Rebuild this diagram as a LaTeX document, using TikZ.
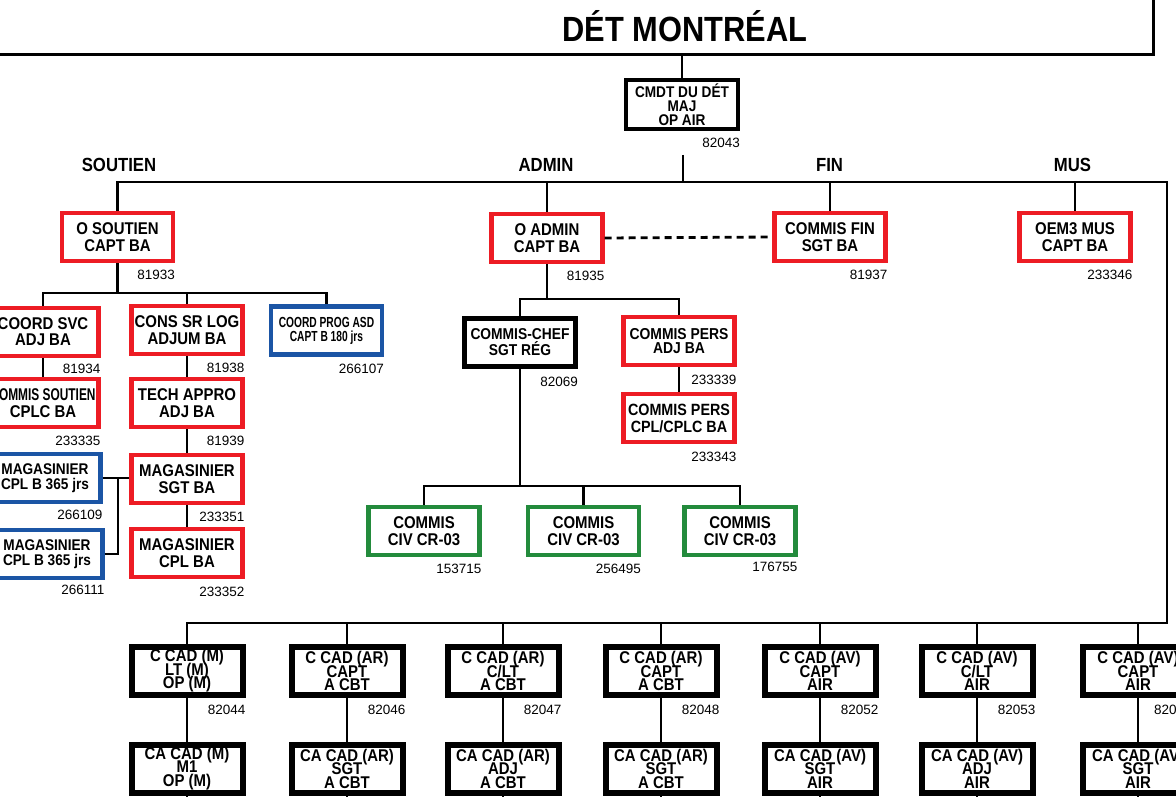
\documentclass[tikz,border=0pt]{standalone}
\usepackage{fontspec}
\setmainfont{Liberation Sans}
\newfontfamily\boxfont[FakeStretch=0.88]{Liberation Sans}
\newfontfamily\slimfont[FakeStretch=0.7]{Liberation Sans}
\newcommand\tightlines{\lineskiplimit=-30pt\relax}
\usetikzlibrary{positioning,calc}
\definecolor{regred}{RGB}{237,28,36}
\definecolor{resblue}{RGB}{27,85,165}
\definecolor{civgreen}{RGB}{35,139,60}
\tikzset{conn/.style={line width=2.8pt},
         dotline/.style={line width=2.8pt, dash pattern=on 7pt off 5pt},
         unitbox/.style={draw, line width=4.3pt, minimum width=111pt, minimum height=48pt,
                     inner sep=0pt, align=center,
                     font={\boxfont\bfseries\fontsize{17}{17.5}\selectfont\tightlines}},
         posreg/.style={unitbox, draw=regred},
         posres/.style={unitbox, draw=resblue},
         posciv/.style={unitbox, draw=civgreen},
         poschef/.style={unitbox, draw=black, line width=5pt},
         poscmd/.style={unitbox, draw=black, line width=4pt, minimum width=112pt, minimum height=49pt,
                     font={\boxfont\bfseries\fontsize{15.5}{13.8}\selectfont\tightlines}},
         posmil/.style={unitbox, draw=black, line width=6pt,
                     font={\boxfont\bfseries\fontsize{17}{13.5}\selectfont\tightlines}},
         num/.style={font=\fontsize{13.5}{14}\selectfont, inner sep=0pt},
         branch/.style={font=\boxfont\bfseries\fontsize{19}{20}\selectfont, inner sep=0pt},
         title/.style={font=\boxfont\bfseries\fontsize{35}{36}\selectfont, inner sep=0pt, anchor=base}
}

\begin{document}
\begin{tikzpicture}[x=1pt,y=-1pt]
    \useasboundingbox (0,0) rectangle (1176,797);

    % head of the detachment
    \draw[line width=3pt] (-20,-40) rectangle (1153,55);
    \node[title] (det) at (685,42) {DÉT MONTRÉAL};
    \coordinate (top) at (682,55);
    \node[poscmd] (cmdt) at (682,104.5) {CMDT DU DÉT\\MAJ\\OP AIR};
    \node[num, below left=7pt and 0pt of cmdt.south east] (n82043) {82043};
    \coordinate (cmdtfoot) at (683,155);
    \coordinate (hub) at (683,182);
    \coordinate (busR) at (1167,182);
    \coordinate (busB) at (1167,623);
    \coordinate (foot) at (0,800);

    % branches
    \node[branch] (lsout) at (119,165) {SOUTIEN};
    \node[branch] (ladm) at (546,165) {ADMIN};
    \node[branch] (lfin) at (829.5,165) {FIN};
    \node[branch] (lmus) at (1072.5,165) {MUS};

    \node[posreg] (sout) at (117.5,237) {O SOUTIEN\\CAPT BA};
    \node[num, below left=7pt and 0pt of sout.south east] (n81933) {81933};
    \node[posreg] (adm) at (547,238) {O ADMIN\\CAPT BA};
    \node[num, below left=7pt and 0pt of adm.south east] (n81935) {81935};
    \node[posreg] (fin) at (830,237) {COMMIS FIN\\SGT BA};
    \node[num, below left=7pt and 0pt of fin.south east] (n81937) {81937};
    \node[posreg] (mus) at (1075,237) {OEM3 MUS\\CAPT BA};
    \node[num, below left=7pt and 0pt of mus.south east] (n233346) {233346};

    % soutien
    \coordinate (sbus) at (117.5,293);
    \node[posreg] (svc) at (43,332) {COORD SVC\\[-1.5pt]ADJ BA};
    \node[num, below left=6pt and 0pt of svc.south east] (n81934) {81934};
    \node[posreg] (logc) at (187,330) {CONS SR LOG\\ADJUM BA};
    \node[num, below left=7pt and 0pt of logc.south east] (n81938) {81938};
    \node[posres, font={\slimfont\bfseries\fontsize{14.6}{14}\selectfont}] (asd) at (326.5,330.5) {COORD PROG ASD\\CAPT B 180 jrs};
    \node[num, below left=7pt and 0pt of asd.south east] (n266107) {266107};
    \node[posreg] (soutc) at (43,403) {{\slimfont COMMIS SOUTIEN}\\CPLC BA};
    \node[num, below left=7pt and 0pt of soutc.south east] (n233335) {233335};
    \node[posreg] (tech) at (187,403) {TECH APPRO\\ADJ BA};
    \node[num, below left=7pt and 0pt of tech.south east] (n81939) {81939};
    \node[posres, font={\boxfont\bfseries\fontsize{15.5}{15}\selectfont}] (mag1) at (45,478) {MAGASINIER\\CPL B 365 jrs};
    \node[num, below left=6pt and 0pt of mag1.south east] (n266109) {266109};
    \node[posreg] (magsgt) at (187,479) {MAGASINIER\\SGT BA};
    \node[num, below left=7pt and 0pt of magsgt.south east] (n233351) {233351};
    \node[posres, font={\boxfont\bfseries\fontsize{15.5}{15}\selectfont}] (mag2) at (47,554) {MAGASINIER\\CPL B 365 jrs};
    \node[num, below left=5pt and 0pt of mag2.south east] (n266111) {266111};
    \node[posreg] (magcpl) at (187,553) {MAGASINIER\\CPL BA};
    \node[num, below left=8pt and 0pt of magcpl.south east] (n233352) {233352};
    \coordinate (mj) at (118,478);

    % admin
    \coordinate (abus) at (547,299);
    \node[poschef, font={\boxfont\bfseries\fontsize{15.7}{16}\selectfont}] (chef) at (520,342) {COMMIS-CHEF\\SGT RÉG};
    \node[num, below left=8pt and 0pt of chef.south east] (n82069) {82069};
    \node[posreg, font={\boxfont\bfseries\fontsize{15.8}{14.5}\selectfont\tightlines}] (pers) at (679,341) {COMMIS PERS\\ADJ BA};
    \node[num, below left=8pt and 0pt of pers.south east] (n233339) {233339};
    \node[posreg, font={\boxfont\bfseries\fontsize{16.3}{17}\selectfont}] (pers2) at (679,418) {COMMIS PERS\\CPL/CPLC BA};
    \node[num, below left=8pt and 0pt of pers2.south east] (n233343) {233343};
    \coordinate (gbus) at (520,486);
    \node[posciv] (civ1) at (424,531) {COMMIS\\CIV CR-03};
    \node[num, below left=7pt and 0pt of civ1.south east] (n153715) {153715};
    \node[posciv] (civ2) at (583.5,531) {COMMIS\\CIV CR-03};
    \node[num, below left=7pt and 0pt of civ2.south east] (n256495) {256495};
    \node[posciv] (civ3) at (740,531) {COMMIS\\CIV CR-03};
    \node[num, below left=5pt and 0pt of civ3.south east] (n176755) {176755};

    % cadets
    \node[posmil] (c1) at (187,671) {C CAD (M)\\LT (M)\\OP (M)};
    \node[num, below left=7pt and 0pt of c1.south east] (n82044) {82044};
    \node[posmil] (c2) at (347,671) {C CAD (AR)\\CAPT\\A CBT};
    \node[num, below left=7pt and 0pt of c2.south east] (n82046) {82046};
    \node[posmil] (c3) at (503,671) {C CAD (AR)\\C/LT\\A CBT};
    \node[num, below left=7pt and 0pt of c3.south east] (n82047) {82047};
    \node[posmil] (c4) at (661,671) {C CAD (AR)\\CAPT\\A CBT};
    \node[num, below left=7pt and 0pt of c4.south east] (n82048) {82048};
    \node[posmil] (c5) at (820,671) {C CAD (AV)\\CAPT\\AIR};
    \node[num, below left=7pt and 0pt of c5.south east] (n82052) {82052};
    \node[posmil] (c6) at (977,671) {C CAD (AV)\\C/LT\\AIR};
    \node[num, below left=7pt and 0pt of c6.south east] (n82053) {82053};
    \node[posmil] (c7) at (1138,671) {C CAD (AV)\\CAPT\\AIR};
    \node[num, anchor=north west] (n820) at (1154,705) {820};

    \node[posmil] (a1) at (187,768.5) {CA CAD (M)\\M1\\OP (M)};
    \node[posmil] (a2) at (347,768.5) {CA CAD (AR)\\SGT\\A CBT};
    \node[posmil] (a3) at (503,768.5) {CA CAD (AR)\\ADJ\\A CBT};
    \node[posmil] (a4) at (661,768.5) {CA CAD (AR)\\SGT\\A CBT};
    \node[posmil] (a5) at (820,768.5) {CA CAD (AV)\\SGT\\AIR};
    \node[posmil] (a6) at (977,768.5) {CA CAD (AV)\\ADJ\\AIR};
    \node[posmil] (a7) at (1138,768.5) {CA CAD (AV)\\SGT\\AIR};

    % links
    \draw[conn] (top) -- (cmdt);
    \draw[conn] (cmdtfoot) -- (hub);
    \draw[conn] (sout.north) |- (busR) -- (busB) -| (c1.north);
    \draw[conn] (adm.north) -- (adm.north |- busR);
    \draw[conn] (fin.north) -- (fin.north |- busR);
    \draw[conn] (mus.north) -- (mus.north |- busR);
    \draw[dotline] (adm.east) -- (fin.west);

    \draw[conn] (sout.south) -- (sbus);
    \draw[conn] (svc.north) |- (sbus) -| (asd.north);
    \draw[conn] (logc.north) -- (logc.north |- sbus);
    \draw[conn] (svc) -- (soutc);
    \draw[conn] (logc) -- (tech);
    \draw[conn] (tech) -- (magsgt);
    \draw[conn] (magsgt) -- (magcpl);
    \draw[conn] (mag1.east) -- (mag1.east -| magsgt.west);
    \draw[conn] (mag2.east) -| (mj);

    \draw[conn] (adm.south) -- (abus);
    \draw[conn] (chef.north) |- (abus) -| (pers.north);
    \draw[conn] (pers) -- (pers2);
    \draw[conn] (chef.south) -- (gbus);
    \draw[conn] (civ1.north) |- (gbus) -| (civ3.north);
    \draw[conn] (civ2.north) -- (civ2.north |- gbus);

    \foreach \i in {2,...,7}
        \draw[conn] (c\i.north) -- (c\i.north |- busB);
    \foreach \i in {1,...,7}
        \draw[conn] (c\i) -- (a\i);
    \foreach \i in {1,...,7}
        \draw[conn] (a\i.south) -- (a\i.south |- foot);
\end{tikzpicture}
\end{document}
